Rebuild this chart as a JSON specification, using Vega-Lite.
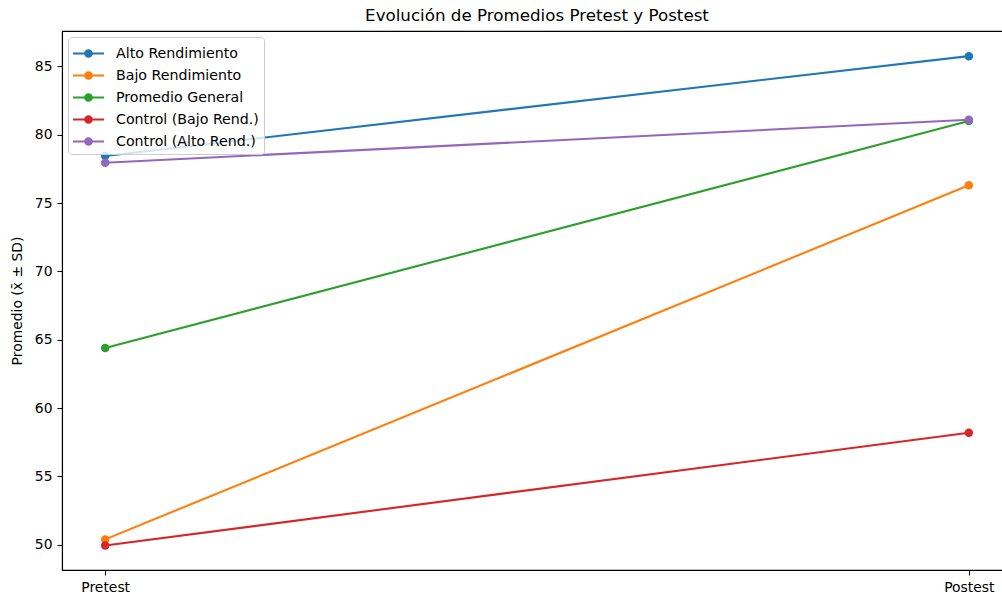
{
  "$schema": "https://vega.github.io/schema/vega-lite/v6.json",
  "autosize": "none",
  "width": 950,
  "height": 539,
  "padding": {"left": 62, "top": 31, "right": 0, "bottom": 26},
  "background": "white",
  "title": {
    "text": "Evolución de Promedios Pretest y Postest",
    "font": "DejaVu Sans",
    "fontSize": 16.7,
    "fontWeight": "normal",
    "color": "black",
    "anchor": "middle",
    "offset": 6
  },
  "config": {
    "view": {"stroke": "black", "strokeWidth": 1.1},
    "font": "DejaVu Sans",
    "axis": {
      "grid": false,
      "domainColor": "black",
      "domainWidth": 1.1,
      "tickColor": "black",
      "tickWidth": 1.1,
      "tickSize": 5,
      "labelPadding": 5,
      "labelFont": "DejaVu Sans",
      "labelFontSize": 13.9,
      "labelColor": "black",
      "titleFont": "DejaVu Sans",
      "titleFontSize": 13.9,
      "titleFontWeight": "normal",
      "titleColor": "black"
    }
  },
  "data": {
    "values": [
      {"grupo": "Alto Rendimiento", "momento": "Pretest", "promedio": 78.45},
      {"grupo": "Alto Rendimiento", "momento": "Postest", "promedio": 85.75},
      {"grupo": "Bajo Rendimiento", "momento": "Pretest", "promedio": 50.4},
      {"grupo": "Bajo Rendimiento", "momento": "Postest", "promedio": 76.3},
      {"grupo": "Promedio General", "momento": "Pretest", "promedio": 64.4},
      {"grupo": "Promedio General", "momento": "Postest", "promedio": 81.0},
      {"grupo": "Control (Bajo Rend.)", "momento": "Pretest", "promedio": 49.95},
      {"grupo": "Control (Bajo Rend.)", "momento": "Postest", "promedio": 58.2},
      {"grupo": "Control (Alto Rend.)", "momento": "Pretest", "promedio": 77.95},
      {"grupo": "Control (Alto Rend.)", "momento": "Postest", "promedio": 81.1}
    ]
  },
  "encoding": {
    "x": {
      "field": "momento",
      "type": "nominal",
      "sort": ["Pretest", "Postest"],
      "scale": {"type": "point", "padding": 0.05},
      "axis": {"title": null, "labelAngle": 0}
    },
    "y": {
      "field": "promedio",
      "type": "quantitative",
      "scale": {"domain": [48.16, 87.59], "nice": false, "zero": false},
      "axis": {"title": "Promedio (x̄ ± SD)", "values": [50, 55, 60, 65, 70, 75, 80, 85], "titlePadding": 10}
    },
    "color": {
      "field": "grupo",
      "type": "nominal",
      "scale": {
        "domain": ["Alto Rendimiento", "Bajo Rendimiento", "Promedio General", "Control (Bajo Rend.)", "Control (Alto Rend.)"],
        "range": ["#1f77b4", "#ff7f0e", "#2ca02c", "#d62728", "#9467bd"]
      },
      "legend": {
        "title": null,
        "orient": "top-left",
        "offset": 6,
        "padding": 5,
        "rowPadding": 3,
        "fillColor": "rgba(255,255,255,0.8)",
        "strokeColor": "#cccccc",
        "cornerRadius": 3,
        "symbolType": "M-1.48,0H1.48M-0.32,0A0.32,0.32,0,1,1,0.32,0A0.32,0.32,0,1,1,-0.32,0Z",
        "symbolSize": 441,
        "symbolStrokeWidth": 2,
        "symbolOffset": 4,
        "labelOffset": 16,
        "labelFont": "DejaVu Sans",
        "labelFontSize": 14.2,
        "labelColor": "black"
      }
    }
  },
  "layer": [
    {"mark": {"type": "line", "strokeWidth": 2.1}},
    {"mark": {"type": "point", "filled": true, "opacity": 1, "size": 72}}
  ]
}
